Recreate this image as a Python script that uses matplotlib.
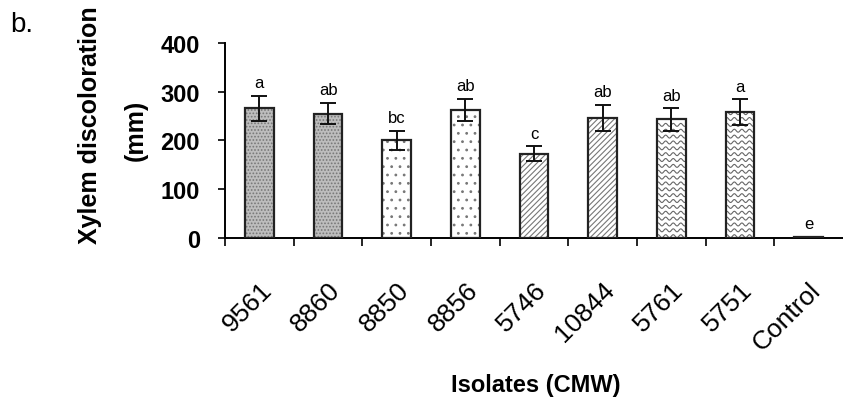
import numpy as np
import matplotlib
matplotlib.use('Agg')
import matplotlib.pyplot as plt
import matplotlib.transforms as mtrans

plt.rcParams['font.family'] = ['Liberation Sans', 'DejaVu Sans']
plt.rcParams['hatch.linewidth'] = 0.8

isolates = ['9561', '8860', '8850', '8856', '5746', '10844', '5761', '5751', 'Control']
xylem = [266, 255, 200, 263, 173, 246, 243, 258, 3]
err = [26, 22, 20, 23, 15, 27, 23, 26, 0]
letters = ['a', 'ab', 'bc', 'ab', 'c', 'ab', 'ab', 'a', 'e']
fills = ['#bdbdbd', '#bdbdbd', 'white', 'white', 'white', 'white', 'white', 'white', 'black']
hatches = ['.....', '.....', '..', '..', '//////', '//////', '', '', '']
wavy = [False, False, False, False, False, False, True, True, False]

fig = plt.figure(figsize=(8.43, 4.06), dpi=100)
ax = fig.add_axes([0.267, 0.411, 0.733, 0.481])

x = np.arange(len(isolates))
w = 0.42
# fill + hatch first, outline on top
for i in range(len(isolates)):
    bc = ax.bar(x[i], xylem[i], w, color=fills[i], hatch=hatches[i],
                edgecolor='#777777', linewidth=0, zorder=2)
    if wavy[i]:
        # wavy texture, clipped to the bar
        xs = np.linspace(x[i] - w / 2, x[i] + w / 2, 80)
        for y0 in np.arange(4, xylem[i], 12):
            ln, = ax.plot(xs, y0 + 3 * np.sin((xs - x[i]) * 2 * np.pi / 0.11),
                          color='#666666', lw=0.8, zorder=2.5)
            ln.set_clip_path(bc.patches[0])
ax.bar(x, xylem, w, fill=False, edgecolor='#222222', linewidth=1.6, zorder=3)
ax.errorbar(x[:-1], xylem[:-1], yerr=err[:-1], fmt='none', ecolor='#111111',
            elinewidth=1.4, capsize=6, capthick=1.4, zorder=4)

for i in range(len(isolates)):
    ax.annotate(letters[i], (x[i], xylem[i] + err[i]), xytext=(0, 4),
                textcoords='offset points', ha='center', va='bottom', fontsize=12)

ax.set_xlim(-0.5, 8.5)
ax.set_ylim(0, 400)
ax.set_yticks([0, 100, 200, 300, 400])
ax.set_xticks(np.arange(-0.5, 8.5, 1.0))
ax.set_xticklabels([])
ax.set_xticks(x, minor=True)
ax.set_xticklabels(isolates, minor=True, rotation=45, ha='right', va='top',
                   rotation_mode='anchor', fontsize=19)
shift = mtrans.ScaledTranslation(-0.42, 0, fig.dpi_scale_trans)
for lab in ax.get_xticklabels(minor=True):
    lab.set_transform(lab.get_transform() + shift)
ax.tick_params(axis='x', which='minor', length=0, pad=28)
ax.tick_params(axis='x', which='major', length=6, width=1.2, direction='out')
ax.tick_params(axis='y', length=5, width=1.2, labelsize=17, pad=13)
for lab in ax.get_yticklabels():
    lab.set_fontweight('bold')
ax.spines['top'].set_visible(False)
ax.spines['right'].set_visible(False)
ax.spines['left'].set_linewidth(1.4)
ax.spines['bottom'].set_linewidth(1.4)

fig.text(0.107, 0.692, 'Xylem discoloration', rotation=90, ha='center', va='center',
         fontsize=18, fontweight='bold')
fig.text(0.161, 0.68, '(mm)', rotation=90, ha='center', va='center',
         fontsize=18, fontweight='bold')
fig.text(0.012, 0.92, 'b.', fontsize=20)
fig.text(0.635, 0.05, 'Isolates (CMW)', ha='center', va='center', fontsize=17,
         fontweight='bold')

fig.savefig('out.png', dpi=100)
